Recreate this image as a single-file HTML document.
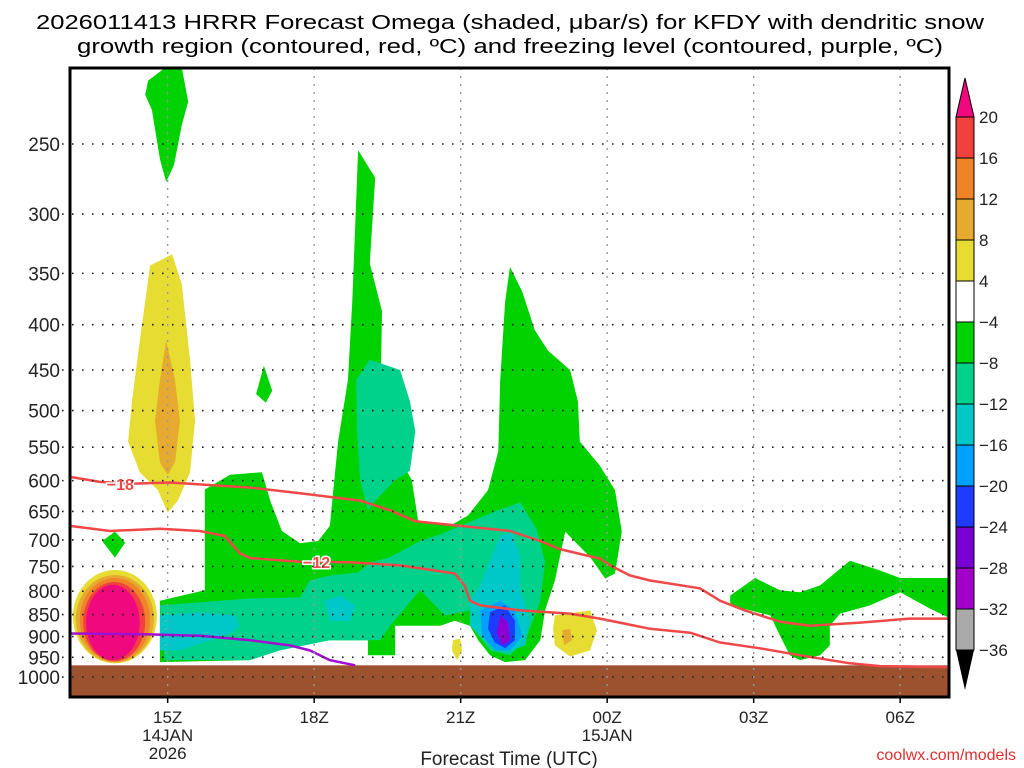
<!DOCTYPE html>
<html><head><meta charset="utf-8"><style>
html,body{margin:0;padding:0;background:#fff;width:1024px;height:768px;overflow:hidden}
svg{display:block;font-family:"Liberation Sans","DejaVu Sans",sans-serif}
</style></head><body>
<svg id="c" width="1024" height="768" viewBox="0 0 1024 768">
<text x="510" y="29" font-size="20" text-anchor="middle" textLength="948" lengthAdjust="spacingAndGlyphs">2026011413 HRRR Forecast Omega (shaded, μbar/s) for KFDY with dendritic snow</text>
<text x="510" y="53" font-size="20" text-anchor="middle" textLength="866" lengthAdjust="spacingAndGlyphs">growth region (contoured, red, ºC) and freezing level (contoured, purple, ºC)</text>
<g id="plot"></g>
<g id="axes"></g>
<g id="cbar"></g>
<text x="509" y="765" font-size="19" text-anchor="middle" fill="#222">Forecast Time (UTC)</text>
<text x="1016" y="760" font-size="16" text-anchor="end" fill="#e03030">coolwx.com/models</text>
</svg>
<script>
// ---- data ----
const pLevels=[250,300,350,400,450,500,550,600,650,700,750,800,850,900,950,1000];
const timeTicks=[15,18,21,24,27,30];
const timeLabels=[["15Z","14JAN","2026"],["18Z"],["21Z"],["00Z","15JAN"],["03Z"],["06Z"]];
const cbLevels=["20","16","12","8","4","−4","−8","−12","−16","−20","−24","−28","−32","−36"];
const cbColors=["#f04040","#f08228","#e6aa30","#e6dc32","#ffffff","#00d200","#00d28c","#00c8c8","#00a0ff","#1e3cff","#7800d2","#a000c8","#aaaaaa"];
const greenTop=[[14.6,212],[14.95,205],[15.29,205],[15.42,224],[15.29,238],[15.13,264],[14.97,276],[14.84,260],[14.68,229],[14.54,220]];
const greenStick=[[16.97,445],[17.14,475],[17.01,490],[16.81,479]];
const greenDiamond=[[13.92,685],[14.13,705],[13.92,733],[13.66,702]];
const greenMain=[[14.84,962],[14.84,820],[15.76,798],[15.76,614],[16.28,591],[16.93,587],[17.1,632],[17.34,684],[17.71,706],[18.08,702],[18.32,675],[18.49,542],[18.69,462],[18.78,376],[18.9,254],[19.25,273],[19.14,341],[19.39,386],[19.35,514],[19.66,556],[20.0,599],[20.13,667],[20.78,675],[21.15,657],[21.56,615],[21.77,556],[21.81,462],[21.91,377],[22.01,344],[22.26,367],[22.52,406],[22.79,428],[23.24,450],[23.4,488],[23.44,542],[23.85,577],[24.16,615],[24.3,685],[24.16,764],[23.96,774],[23.65,732],[23.14,685],[22.93,778],[22.73,841],[22.63,909],[22.32,957],[21.91,962],[21.6,945],[21.36,909],[21.19,875],[20.88,864],[20.58,875],[20.37,875],[19.66,875],[19.66,945],[19.1,945],[19.1,909],[18.32,909],[17.5,921],[16.69,957]];
const greenRight=[[26.52,809],[27.03,773],[27.54,798],[27.95,802],[28.36,788],[28.97,739],[29.59,758],[30.0,773],[31,773],[31,857],[30.61,837],[30.0,802],[29.38,830],[28.77,848],[28.56,875],[28.56,921],[28.36,945],[27.95,957],[27.74,945],[27.54,898],[27.34,852],[26.52,830]];
const tealMain=[[14.84,830],[16.69,815],[17.71,813],[17.91,778],[18.32,768],[18.9,762],[19.14,743],[19.55,732],[20.17,702],[20.58,690],[21.19,668],[21.7,650],[22.22,635],[22.55,680],[22.73,741],[22.63,820],[22.32,909],[22.01,945],[21.6,933],[21.29,886],[21.19,841],[20.68,852],[20.17,798],[19.55,875],[19.35,909],[18.32,909],[17.3,933],[16.69,957],[14.94,957]];
const tealUpper=[[18.86,462],[19.14,438],[19.76,450],[19.96,488],[20.07,528],[19.96,585],[19.66,599],[19.25,632],[19.1,648],[18.94,599],[18.88,528]];
const cyanLeft=[[14.84,852],[15.66,845],[16.38,852],[16.48,875],[16.28,893],[15.25,933],[14.84,933]];
const cyanMid=[[18.22,820],[18.53,809],[18.84,830],[18.73,864],[18.32,864]];
const cyanRight=[[21.19,820],[21.4,788],[21.6,739],[21.81,692],[22.05,687],[22.22,732],[22.22,798],[22.42,864],[22.32,921],[21.91,938],[21.5,909],[21.19,875]];
const blueCore=[[21.4,841],[21.81,820],[22.11,841],[22.26,898],[22.01,933],[21.7,933],[21.44,898]];
const darkBlueCore=[[21.6,845],[21.91,830],[22.11,864],[22.11,909],[21.91,928],[21.7,914],[21.56,882]];
const purpleCore=[[21.81,852],[21.97,868],[22.01,909],[21.85,921],[21.74,891]];
const yellowColumn=[[14.64,343],[15.09,333],[15.29,360],[15.46,439],[15.56,514],[15.46,587],[15.21,632],[15.0,652],[14.8,615],[14.43,587],[14.19,542],[14.27,488],[14.43,417]];
const goldColumn=[[14.97,417],[15.15,462],[15.25,514],[15.15,572],[15.0,591],[14.84,572],[14.74,514],[14.84,462]];
const yellowRight=[[22.93,852],[23.65,841],[23.79,886],[23.65,933],[23.24,948],[22.93,921],[22.89,882]];
const goldRight=[[23.08,886],[23.24,882],[23.28,909],[23.12,921]];
const yellowSmall=[[20.84,909],[20.99,905],[21.03,933],[20.93,957],[20.82,933]];
// hot blob rings: [hourLeft, hourRight, pTop, pBottom]
const hotRings=[[13.06,14.78,757,965],[13.12,14.72,767,963],[13.2,14.64,773,960],[13.27,14.54,781,960],[13.33,14.43,787,957]];
const hotColors=["#e6dc32","#e6aa30","#f08228","#f04040","#f0087e"];
const iso18=[[13,594],[13.61,602],[14.23,605],[15.05,603],[16.69,611],[17.71,620],[18.94,632],[19.55,648],[20.07,667],[20.99,675],[22.01,684],[22.63,702],[23.03,717],[23.85,735],[24.06,748],[24.47,768],[24.88,778],[25.9,794],[26.31,820],[26.82,841],[27.54,866],[28.15,875],[29.18,868],[30.2,859],[31,859]];
const iso12=[[13,675],[13.82,684],[14.84,680],[15.66,684],[16.17,693],[16.48,725],[16.69,734],[17.71,741],[18.73,742],[19.76,748],[20.47,758],[20.88,764],[21.08,788],[21.19,820],[21.4,830],[22.22,841],[23.24,848],[23.85,859],[24.88,882],[25.7,891],[26.31,914],[27.13,928],[27.95,945],[28.97,965],[29.59,972],[31,975]];
const freezing=[[13,893],[14.64,895],[15.66,898],[16.69,909],[17.5,921],[17.91,933],[18.32,957],[18.84,970]];
const groundP=970;

// ---- axes ----
const X0=70,X1=949,Y0=68,Y1=697,H0=13,H1=31;
const xs=h=>X0+(h-H0)*(X1-X0)/(H1-H0);
const ys=p=>144+384.5*Math.log(p/250);
const NS="http://www.w3.org/2000/svg";
function mk(tag,attrs,parent){const e=document.createElementNS(NS,tag);for(const k in attrs)e.setAttribute(k,attrs[k]);parent.appendChild(e);return e;}
const plot=document.getElementById('plot'),axes=document.getElementById('axes'),cb=document.getElementById('cbar');
mk('clipPath',{id:'clp'},plot).appendChild(document.createElementNS(NS,'rect'));
const cr=plot.querySelector('clipPath rect');cr.setAttribute('x',X0);cr.setAttribute('y',Y0);cr.setAttribute('width',X1-X0);cr.setAttribute('height',Y1-Y0);
const g=mk('g',{'clip-path':'url(#clp)'},plot);
function poly(pts,fill,name){const e=mk('polygon',{points:pts.map(q=>xs(q[0]).toFixed(1)+','+ys(q[1]).toFixed(1)).join(' '),fill:fill},g);

return e;}
poly(greenTop,'#00d200','green-region-top');
poly(greenStick,'#00d200','green-region-small');
poly(greenDiamond,'#00d200','green-region-diamond');
poly(greenMain,'#00d200','green-region-main');
poly(greenRight,'#00d200','green-region-right');
poly(tealMain,'#00d28c','teal-region-main');
poly(tealUpper,'#00d28c','teal-region-upper');
poly(cyanLeft,'#00c8c8','cyan-region-left');
poly(cyanMid,'#00c8c8','cyan-region-mid');
poly(cyanRight,'#00c8c8','cyan-region-right');
poly(blueCore,'#00a0ff','blue-core');
poly(darkBlueCore,'#1e3cff','dark-blue-core');
poly(purpleCore,'#8c00d2','purple-core');
poly(yellowColumn,'#e6dc32','yellow-column');
poly(goldColumn,'#e6aa30','gold-column');
poly(yellowRight,'#e6dc32','yellow-region-right');
poly(goldRight,'#e6aa30','gold-region-right');
poly(yellowSmall,'#e6dc32','yellow-region-small');
hotRings.forEach((r,i)=>{const cx=(xs(r[0])+xs(r[1]))/2,cy=(ys(r[2])+ys(r[3]))/2;
const e=mk('ellipse',{cx:cx,cy:cy,rx:(xs(r[1])-xs(r[0]))/2,ry:(ys(r[3])-ys(r[2]))/2,fill:hotColors[i]},g);

});
const gr=mk('rect',{x:X0,y:ys(groundP),width:X1-X0,height:Y1-ys(groundP),fill:'#9c522e'},g);


// grid
pLevels.forEach(p=>{const l=mk('line',{x1:62,x2:X1,y1:ys(p),y2:ys(p),stroke:'#222','stroke-width':1.6,'stroke-dasharray':'1.6 8.4'},axes);


const t=mk('text',{x:60,y:ys(p)+7,'font-size':19,'text-anchor':'end',fill:'#222'},axes);t.textContent=p;

});
timeTicks.forEach((h,i)=>{const x=xs(h);const l=mk('line',{x1:x,x2:x,y1:Y0,y2:Y1,stroke:'#999','stroke-width':1.4,'stroke-dasharray':'2 6'},axes);


mk('line',{x1:x,x2:x,y1:Y1,y2:Y1+6,stroke:'#000','stroke-width':1.5},axes);
timeLabels[i].forEach((s,j)=>{const t=mk('text',{x:x,y:723+j*18,'font-size':17,'text-anchor':'middle',fill:'#222'},axes);t.textContent=s;

});});
// lines
function line(pts,color,w,name){const e=mk('polyline',{points:pts.map(q=>xs(q[0]).toFixed(1)+','+ys(q[1]).toFixed(1)).join(' '),fill:'none',stroke:color,'stroke-width':w,'stroke-linejoin':'round'},g);

}
line(iso18,'#f04848',2.5,'isotherm-minus18');
line(iso12,'#f04848',2.5,'isotherm-minus12');
line(freezing,'#a010d0',2.5,'freezing-level');
function lab(txt,h,p,name){const x=xs(h),y=ys(p);
const t=mk('text',{x:x,y:y+6,'font-size':16,'font-weight':'bold','text-anchor':'middle',fill:'#f04848',stroke:'#fff','stroke-width':3,'paint-order':'stroke'},g);t.textContent=txt;

}
lab('−18',iso18[2][0]-0.2,iso18[2][1],'isotherm-label-18');
lab('−12',18.05,iso12[7][1],'isotherm-label-12');
const fr=mk('rect',{x:X0,y:Y0,width:X1-X0,height:Y1-Y0,fill:'none',stroke:'#000','stroke-width':3},axes);


// colorbar
const CX=956,CW=18,CT=117,CH=41;
mk('polygon',{points:`${CX},${CT} ${CX+CW},${CT} ${CX+CW/2},78`,fill:'#f0087e',stroke:'#000','stroke-width':1},cb);
cbColors.forEach((c,i)=>{const r=mk('rect',{x:CX,y:CT+i*CH,width:CW,height:CH,fill:c,stroke:'#000','stroke-width':1},cb);

});
const cbBot=CT+cbColors.length*CH;
mk('polygon',{points:`${CX},${cbBot} ${CX+CW},${cbBot} ${CX+CW/2},690`,fill:'#000'},cb);
cbLevels.forEach((s,i)=>{const t=mk('text',{x:CX+CW+5,y:CT+i*CH+6,'font-size':17,fill:'#222'},cb);t.textContent=s;

});
</script>
</body></html>
